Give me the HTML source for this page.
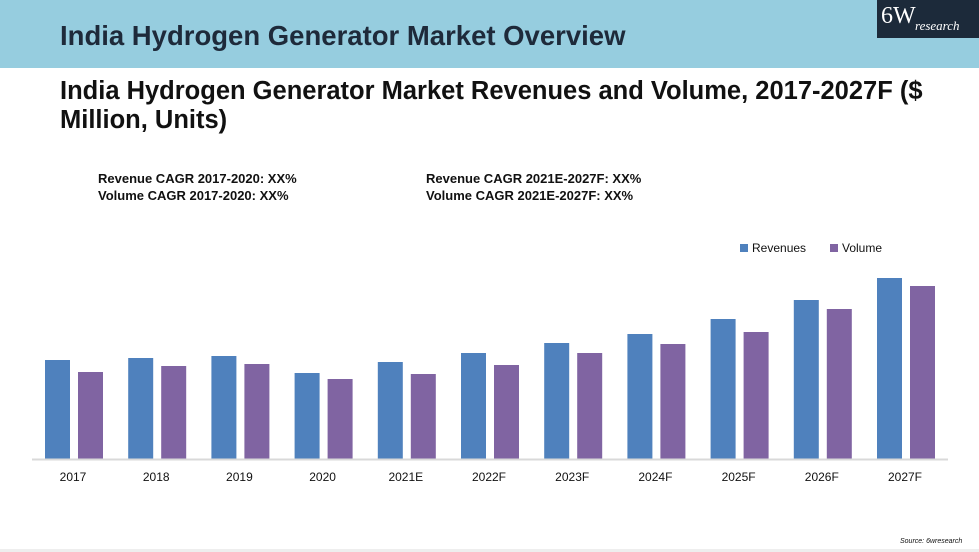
<!DOCTYPE html>
<html><head><meta charset="utf-8"><style>
body{margin:0;width:979px;height:552px;background:#fff;font-family:"Liberation Sans",sans-serif;position:relative;overflow:hidden}
.t{position:absolute;white-space:nowrap;color:#111}
</style></head><body>
<div style="position:absolute;left:0;top:0;width:979px;height:68px;background:#96cddf"></div>
<div style="position:absolute;left:877px;top:0;width:102px;height:38px;background:#1c2a3a;color:#fff;font-family:'Liberation Serif',serif">
<span style="position:absolute;left:4px;top:3px;font-size:24px">6W</span><span style="position:absolute;left:38px;top:18px;font-size:13px;font-style:italic">research</span></div>
<div class="t" style="left:60px;top:20px;font-size:27.5px;color:#1e2a3a;font-weight:bold">India Hydrogen Generator Market Overview</div>
<div class="t" style="left:60px;top:77px;font-size:25.5px;font-weight:bold;line-height:29px">India Hydrogen Generator Market Revenues and Volume, 2017-2027F ($<br>Million, Units)</div>
<div class="t" style="left:98px;top:170px;font-size:13px;font-weight:bold;line-height:17px">Revenue CAGR 2017-2020: XX%<br>Volume CAGR 2017-2020: XX%</div>
<div class="t" style="left:426px;top:170px;font-size:13px;font-weight:bold;line-height:17px">Revenue CAGR 2021E-2027F: XX%<br>Volume CAGR 2021E-2027F: XX%</div>
<div class="t" style="left:740px;top:241px;font-size:12px"><span style="display:inline-block;width:8px;height:8px;background:#4f81bd;margin-right:4px"></span>Revenues</div>
<div class="t" style="left:830px;top:241px;font-size:12px"><span style="display:inline-block;width:8px;height:8px;background:#8064a2;margin-right:4px"></span>Volume</div>
<svg id="chart" width="979" height="552" style="position:absolute;left:0;top:0"></svg>
<div class="t" style="left:900px;top:538px;font-size:7px;font-style:italic">Source: 6wresearch</div>
<div style="position:absolute;left:0;top:549px;width:979px;height:3px;background:#eee"></div>
<script>
const categories=["2017","2018","2019","2020","2021E","2022F","2023F","2024F","2025F","2026F","2027F"];
const revenues=[99,101,103,86,97,106,116,125,140,159,181];
const volume=[87,93,95,80,85,94,106,115,127,150,173];
const svg=document.getElementById('chart');
const NS='http://www.w3.org/2000/svg';
const base=459, x0=73, step=83.2;
const y=v=>base-v*1.0;
const xc=i=>x0+i*step;
function mk(t,a){const e=document.createElementNS(NS,t);for(const k in a)e.setAttribute(k,a[k]);svg.appendChild(e);return e;}
categories.forEach((c,i)=>{
 const r=mk('rect',{x:xc(i)-28,y:y(revenues[i]),width:25,height:base-y(revenues[i]),fill:'#4f81bd'});
 
 
 const v=mk('rect',{x:xc(i)+5,y:y(volume[i]),width:25,height:base-y(volume[i]),fill:'#8064a2'});
 
 
 const t=mk('text',{x:xc(i),y:481,'text-anchor':'middle','font-size':12,fill:'#111','font-family':'Liberation Sans, sans-serif'});
 t.textContent=c;
 
 
});
const ax=mk('line',{x1:32,x2:948,y1:base+0.5,y2:base+0.5,stroke:'#d9d9d9','stroke-width':2});


</script>
</body></html>
